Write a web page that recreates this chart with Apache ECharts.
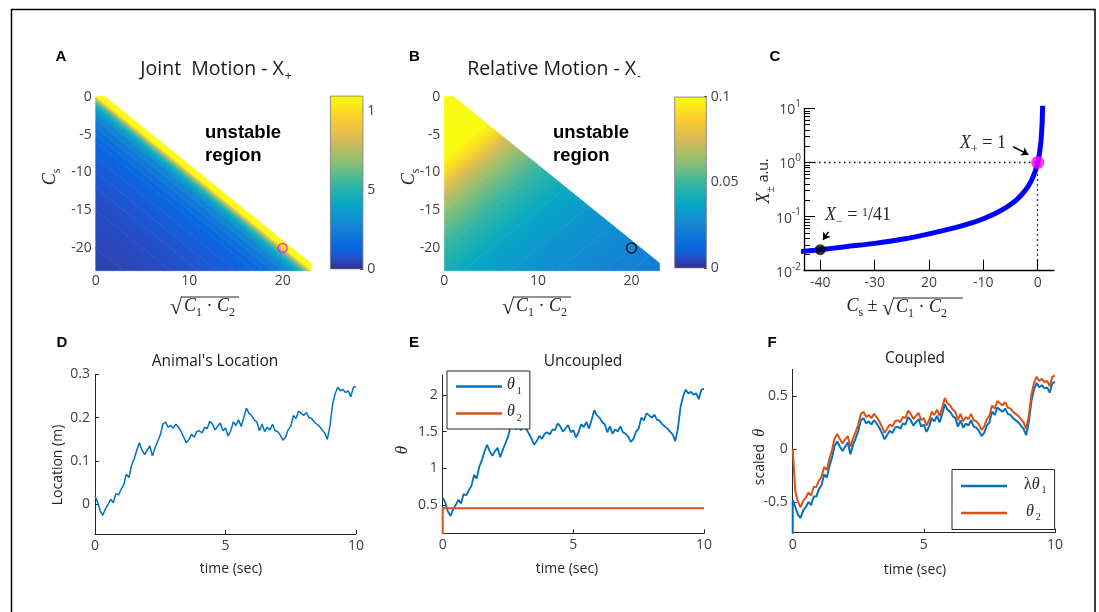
<!DOCTYPE html>
<html>
<head>
<meta charset="utf-8">
<script src="https://cdn.jsdelivr.net/npm/echarts@6.0.0/dist/echarts.min.js"></script>
<style>
html,body{margin:0;padding:0;background:#ffffff;}
#chart{width:1099px;height:612px;}
</style>
</head>
<body>
<div id="chart"></div>
<script>
// ---------------- DATA ----------------
// Profile X(z): z = Cs ± sqrt(C1*C2)
const profileZ = [-46, -43, -40, -35, -30, -25, -20, -15, -12, -10, -8, -6, -5, -4, -3, -2, -1.5, -1, -0.5, -0.25, 0, 0.2, 0.4, 0.5, 0.6, 0.7, 0.8, 0.85, 0.9, 1.0];
const profileX = [0.021, 0.023, 0.0244, 0.028, 0.032, 0.038, 0.048, 0.063, 0.077, 0.091, 0.111, 0.143, 0.167, 0.2, 0.25, 0.333, 0.4, 0.5, 0.667, 0.8, 1, 1.25, 1.67, 2, 2.5, 3.33, 5, 6.67, 10, 30];
// stable region (Cs + sqrt(C1C2) <= 1) in panels A & B
const stableRegion = [[0, 0], [1, 0], [23, -22], [23, -23], [0, -23]];
const markA = [20, -20];
const markB = [20, -20];
const colorbarAMax = 1.1;
const colorbarBMax = 0.1;
const abXTicks = [0, 10, 20];
const abYTicks = [0, -5, -10, -15, -20];
const cbATicks = [0, 0.5, 1];
const cbALabels = ['0', '5', '1'];
const cbBTicks = [0, 0.05, 0.1];
const cbBLabels = ['0', '0.05', '0.1'];
const cXTicks = [-40, -30, -20, -10, 0];
const cXLabels = ['-40', '-30', '20', '-10', '0'];
const cYTicks = [0.01, 0.1, 1, 10];
const cYExp = ['-2', '-1', '0', '1'];
const pointPlus = [0, 1];
const pointMinus = [-40, 0.0244];

const timeSec = [0,0.1,0.2,0.3,0.4,0.5,0.6,0.7,0.8,0.9,1,1.1,1.2,1.3,1.4,1.5,1.6,1.7,1.8,1.9,2,2.1,2.2,2.3,2.4,2.5,2.6,2.7,2.8,2.9,3,3.1,3.2,3.3,3.4,3.5,3.6,3.7,3.8,3.9,4,4.1,4.2,4.3,4.4,4.5,4.6,4.7,4.8,4.9,5,5.1,5.2,5.3,5.4,5.5,5.6,5.7,5.8,5.9,6,6.1,6.2,6.3,6.4,6.5,6.6,6.7,6.8,6.9,7,7.1,7.2,7.3,7.4,7.5,7.6,7.7,7.8,7.9,8,8.1,8.2,8.3,8.4,8.5,8.6,8.7,8.8,8.9,9,9.1,9.2,9.3,9.4,9.5,9.6,9.7,9.8,9.9,10];
const locationD = [0.02,0.005,-0.015,-0.025,-0.01,0.0,0.012,0.004,0.025,0.022,
0.035,0.045,0.07,0.062,0.09,0.105,0.125,0.142,0.125,0.115,
0.125,0.135,0.112,0.13,0.145,0.16,0.185,0.19,0.178,0.182,
0.176,0.185,0.178,0.168,0.155,0.142,0.15,0.162,0.155,0.168,
0.17,0.165,0.178,0.175,0.192,0.185,0.172,0.18,0.188,0.17,
0.176,0.158,0.17,0.19,0.182,0.195,0.18,0.2,0.222,0.21,
0.205,0.195,0.19,0.17,0.185,0.168,0.178,0.172,0.185,0.17,
0.168,0.16,0.148,0.155,0.172,0.18,0.205,0.198,0.215,0.21,
0.205,0.212,0.2,0.198,0.19,0.185,0.18,0.172,0.165,0.15,
0.18,0.23,0.255,0.27,0.262,0.265,0.258,0.262,0.248,0.27,
0.272];
const theta1E = [0.6,0.53,0.41,0.35,0.44,0.5,0.57,0.52,0.65,0.63,
0.7,0.76,0.91,0.86,1.02,1.11,1.23,1.32,1.23,1.17,
1.23,1.28,1.15,1.25,1.34,1.43,1.57,1.6,1.53,1.56,
1.52,1.57,1.53,1.47,1.4,1.32,1.37,1.44,1.4,1.47,
1.49,1.46,1.53,1.52,1.61,1.57,1.5,1.54,1.59,1.49,
1.52,1.42,1.49,1.6,1.56,1.63,1.54,1.66,1.79,1.72,
1.69,1.63,1.6,1.49,1.57,1.47,1.53,1.5,1.57,1.49,
1.47,1.43,1.36,1.4,1.5,1.54,1.69,1.65,1.75,1.72,
1.69,1.73,1.66,1.65,1.6,1.57,1.54,1.5,1.46,1.37,
1.54,1.83,1.98,2.07,2.02,2.04,2.0,2.02,1.94,2.07,
2.08];
const theta2ET = [0, 0, 10];
const theta2EV = [0.1, 0.455, 0.455];
const lamTheta1FStart = [0, -0.85];
const lamTheta1F = [-0.48,-0.55,-0.62,-0.65,-0.58,-0.55,-0.5,-0.53,-0.45,-0.45,
-0.38,-0.34,-0.24,-0.27,-0.16,-0.08,0.03,0.07,0.02,-0.02,
0.02,0.06,-0.05,0.04,0.1,0.17,0.27,0.29,0.24,0.26,
0.23,0.27,0.24,0.2,0.15,0.09,0.13,0.17,0.15,0.2,
0.21,0.19,0.24,0.23,0.3,0.27,0.22,0.25,0.28,0.21,
0.23,0.16,0.21,0.29,0.26,0.31,0.25,0.33,0.42,0.37,
0.35,0.31,0.29,0.21,0.27,0.2,0.24,0.22,0.27,0.21,
0.2,0.17,0.12,0.15,0.22,0.25,0.35,0.32,0.39,0.37,
0.35,0.38,0.33,0.32,0.29,0.27,0.25,0.22,0.19,0.13,
0.25,0.45,0.56,0.62,0.58,0.6,0.57,0.58,0.53,0.62,
0.63];
const theta2F = [0.0,-0.4,-0.5,-0.55,-0.49,-0.46,-0.41,-0.44,-0.36,-0.36,
-0.3,-0.26,-0.17,-0.2,-0.09,-0.01,0.1,0.14,0.09,0.05,
0.09,0.12,0.02,0.1,0.16,0.23,0.33,0.35,0.3,0.32,
0.29,0.33,0.3,0.26,0.21,0.15,0.19,0.23,0.21,0.26,
0.27,0.25,0.3,0.29,0.36,0.33,0.28,0.31,0.34,0.27,
0.29,0.22,0.27,0.35,0.32,0.37,0.31,0.39,0.48,0.43,
0.41,0.37,0.35,0.27,0.33,0.26,0.3,0.28,0.33,0.27,
0.26,0.23,0.18,0.21,0.28,0.31,0.41,0.38,0.45,0.43,
0.41,0.44,0.39,0.38,0.35,0.33,0.31,0.28,0.25,0.19,
0.31,0.51,0.62,0.68,0.64,0.66,0.63,0.64,0.59,0.68,
0.69];
const timeTicks = [0, 5, 10];
const dTicks = [0, 0.1, 0.2, 0.3];
const eTicks = [0.5, 1, 1.5, 2];
const fTicks = [-0.5, 0, 0.5];

// ---------------- STYLE HELPERS ----------------
const FONT = "'Open Sans', 'Noto Sans', sans-serif";
const SERIF = "'Liberation Serif', 'DejaVu Serif', serif";
const BOLD = "'Liberation Sans', Arial, sans-serif";
const TICKC = '#404040';
const AXC = '#262626';
const BLUE = '#0072BD';
const ORANGE = '#D95319';
// parula-like colormap (position, colour)
const PARULA = [[0, '#352a87'], [0.04, '#2d43b4'], [0.08, '#1c58d6'], [0.125, '#0a66e0'], [0.25, '#1485d4'],
  [0.375, '#06a7c6'], [0.5, '#38b99e'], [0.625, '#92bf73'], [0.75, '#d9ba56'], [0.875, '#fcce2e'], [1, '#f9fb0e']];

function hexRgb(h) { return [parseInt(h.slice(1,3),16), parseInt(h.slice(3,5),16), parseInt(h.slice(5,7),16)]; }
const PRGB = PARULA.map(s => [s[0], hexRgb(s[1])]);
function parula(t) {
  t = Math.max(0, Math.min(1, t));
  let i = 0;
  while (i < PRGB.length - 2 && t > PRGB[i + 1][0]) i++;
  const a = PRGB[i], b = PRGB[i + 1];
  const f = (t - a[0]) / (b[0] - a[0]);
  return 'rgb(' + [0,1,2].map(k => Math.round(a[1][k] + (b[1][k] - a[1][k]) * f)).join(',') + ')';
}
const parulaStops = PARULA.map(s => ({offset: s[0], color: s[1]}));

function labelFor(ticks, labels) {
  return function (v) {
    for (let i = 0; i < ticks.length; i++) {
      if (Math.abs(ticks[i] - v) <= 1e-6 * Math.max(1, Math.abs(ticks[i]))) return labels[i];
    }
    return '';
  };
}

// Sutherland-Hodgman clip, keep g(p) >= 0
function clipHalf(poly, g) {
  const out = [];
  for (let i = 0; i < poly.length; i++) {
    const p = poly[i], q = poly[(i + 1) % poly.length];
    const gp = g(p), gq = g(q);
    if (gp >= 0) out.push(p);
    if ((gp >= 0) !== (gq >= 0)) {
      const t = gp / (gp - gq);
      out.push([p[0] + (q[0] - p[0]) * t, p[1] + (q[1] - p[1]) * t]);
    }
  }
  return out;
}

function bandRenderer(fa, fb, vmax) {
  return function (params, api) {
    const zLo = api.value(0), zHi = api.value(1), vLo = api.value(2), vHi = api.value(3);
    let poly = clipHalf(stableRegion, p => fa * p[0] + fb * p[1] - zLo);
    poly = clipHalf(poly, p => zHi - (fa * p[0] + fb * p[1]));
    if (poly.length < 3) return null;
    const pts = poly.map(p => api.coord(p));
    const o = api.coord([0, 0]), u = api.coord([1, -1]);
    const sx = u[0] - o[0], sy = u[1] - o[1];
    const gx = fa / sx, gy = -fb / sy;
    const G2 = gx * gx + gy * gy;
    const fill = {
      type: 'linear', global: true,
      x: o[0] + gx * zLo / G2, y: o[1] + gy * zLo / G2,
      x2: o[0] + gx * zHi / G2, y2: o[1] + gy * zHi / G2,
      colorStops: [{offset: 0, color: parula(vLo / vmax)}, {offset: 1, color: parula(vHi / vmax)}]
    };
    return {type: 'polygon', shape: {points: pts}, style: {fill: fill, stroke: fill, lineWidth: 0.6}};
  };
}

const bandData = profileZ.slice(0, -1).map((z, i) => [profileZ[i], profileZ[i + 1], profileX[i], profileX[i + 1]]);

function T(x, y, text, st, el) {
  const style = Object.assign({text: text, fill: '#1a1a1a', fontFamily: FONT, fontSize: 14,
    align: 'center', verticalAlign: 'middle', textAlign: 'center', textVerticalAlign: 'middle'}, st || {});
  return Object.assign({type: 'text', x: x, y: y, z: 100, silent: true, style: style}, el || {});
}
const MATH = {
  i: {fontFamily: SERIF, fontStyle: 'italic', fontSize: 18, fill: '#262626', verticalAlign: 'top'},
  n: {fontFamily: SERIF, fontSize: 18, fill: '#262626', verticalAlign: 'top'},
  s: {fontFamily: SERIF, fontSize: 12, fill: '#262626', verticalAlign: 'top', padding: [9, 0, 0, 0]},
  a: {fontFamily: FONT, fontSize: 14, fill: '#262626', verticalAlign: 'top', padding: [2, 0, 0, 0]}
};
function sqrtParts(x0, cy, w) {
  return [
    T(x0, cy + 1, '√', {fontFamily: SERIF, fontSize: 22, align: 'left', textAlign: 'left', fill: '#262626'}),
    T(x0 + 14, cy + 1, '{i|C}{s|1}{n| · }{i|C}{s|2}', {align: 'left', textAlign: 'left', rich: MATH}),
    {type: 'line', z: 100, silent: true, shape: {x1: x0 + 11, y1: cy - 10, x2: x0 + 11 + w, y2: cy - 10}, style: {stroke: '#262626', lineWidth: 1}}
  ];
}
const TITLE_RICH = {
  n: {fontFamily: FONT, fontSize: 19.5, fill: '#1a1a1a', verticalAlign: 'top'},
  s: {fontFamily: FONT, fontSize: 12, fill: '#1a1a1a', verticalAlign: 'top', padding: [12, 0, 0, 1]}
};

// ---------------- AXES ----------------
function plainValueAxis(gi, min, max, ticks, extra) {
  return Object.assign({
    type: 'value', gridIndex: gi, min: min, max: max,
    axisLine: {show: false}, axisTick: {show: false}, splitLine: {show: false},
    axisLabel: {customValues: ticks, color: TICKC, fontSize: 14, fontFamily: FONT, margin: 4}
  }, extra || {});
}
function lineAxis(gi, min, max, ticks, extra) {
  return Object.assign({
    type: 'value', gridIndex: gi, min: min, max: max,
    axisLine: {show: true, onZero: false, lineStyle: {color: AXC, width: 1}},
    axisTick: {show: true, inside: true, length: 4, customValues: ticks, lineStyle: {color: AXC}},
    splitLine: {show: false},
    axisLabel: {customValues: ticks, color: TICKC, fontSize: 14, fontFamily: FONT, margin: 5}
  }, extra || {});
}
const cMinor = [];
[0.01, 0.1, 1].forEach(b => { for (let k = 2; k <= 9; k++) cMinor.push(+(b * k).toPrecision(3)); });
const cbBMinor = Array.from({length: 21}, (_, i) => +(i * 0.005).toFixed(3));

const xAxes = [
  plainValueAxis(0, 0, 23, abXTicks, {axisLabel: {customValues: abXTicks, color: TICKC, fontSize: 14, fontFamily: FONT, margin: 3}}),
  {type: 'category', gridIndex: 1, data: ['cb'], show: false},
  plainValueAxis(2, 0, 23, abXTicks, {axisLabel: {customValues: abXTicks, color: TICKC, fontSize: 14, fontFamily: FONT, margin: 3}}),
  {type: 'category', gridIndex: 3, data: ['cb'], show: false},
  lineAxis(4, -43, 3, cXTicks, {
    axisLine: {show: true, onZero: false, lineStyle: {color: '#000', width: 1.3}},
    axisTick: {show: true, inside: true, length: 11, customValues: cXTicks, lineStyle: {color: '#000', width: 1}},
    axisLabel: {customValues: cXTicks, formatter: labelFor(cXTicks, cXLabels), color: TICKC, fontSize: 14, fontFamily: FONT, margin: 5}
  }),
  lineAxis(5, 0, 10, timeTicks),
  lineAxis(6, 0, 10, timeTicks),
  lineAxis(7, 0, 10, timeTicks)
];
const yAxes = [
  plainValueAxis(0, -23, 0, abYTicks),
  {type: 'value', gridIndex: 1, min: 0, max: colorbarAMax, position: 'right', splitLine: {show: false},
    axisLine: {show: false, onZero: false},
    axisTick: {show: true, inside: true, length: 3, customValues: cbATicks, lineStyle: {color: '#333'}},
    axisLabel: {customValues: cbATicks, formatter: labelFor(cbATicks, cbALabels), color: TICKC, fontSize: 14, fontFamily: FONT, margin: 4}},
  plainValueAxis(2, -23, 0, abYTicks),
  {type: 'value', gridIndex: 3, min: 0, max: colorbarBMax, position: 'right', splitLine: {show: false},
    axisLine: {show: false, onZero: false},
    axisTick: {show: true, inside: true, length: 2.5, customValues: cbBMinor, lineStyle: {color: '#333'}},
    axisLabel: {customValues: cbBTicks, formatter: labelFor(cbBTicks, cbBLabels), color: TICKC, fontSize: 14, fontFamily: FONT, margin: 4}},
  {type: 'log', logBase: 10, gridIndex: 4, min: 0.01, max: 10, position: 'left', splitLine: {show: false},
    axisLine: {show: true, onZero: false, lineStyle: {color: '#000', width: 1.3}},
    axisTick: {show: true, inside: true, length: 11, customValues: cYTicks, lineStyle: {color: '#000'}},
    axisLabel: {customValues: cYTicks, margin: 3,
      formatter: v => '{b|10}{p|' + labelFor(cYTicks, cYExp)(v) + '}',
      rich: {b: {color: TICKC, fontSize: 14, fontFamily: FONT, verticalAlign: 'bottom'},
             p: {color: TICKC, fontSize: 10, fontFamily: FONT, verticalAlign: 'bottom', padding: [0, 0, 8, 0]}}}},
  lineAxis(5, -0.068, 0.3, dTicks),
  lineAxis(6, 0.114, 2.27, eTicks),
  lineAxis(7, -0.79, 0.75, fTicks),
  {type: 'log', logBase: 10, gridIndex: 4, min: 0.01, max: 10, position: 'left', offset: 0, splitLine: {show: false},
    axisLine: {show: false, onZero: false},
    axisTick: {show: true, inside: true, length: 6, customValues: cMinor, lineStyle: {color: '#000'}},
    axisLabel: {show: false}}
];

const pairs = (xs, ys) => xs.map((x, i) => [x, ys[i]]);

const series = [
  {type: 'custom', name: 'A', xAxisIndex: 0, yAxisIndex: 0, renderItem: bandRenderer(1, 1, colorbarAMax), data: bandData, silent: true},
  {type: 'scatter', xAxisIndex: 0, yAxisIndex: 0, data: [markA], symbol: 'circle', symbolSize: 9, silent: true,
    itemStyle: {color: 'rgba(0,0,0,0)', borderColor: '#ff00ff', borderWidth: 1.5}, z: 5},
  {type: 'bar', xAxisIndex: 1, yAxisIndex: 1, data: [colorbarAMax], barWidth: '100%', silent: true,
    itemStyle: {color: new echarts.graphic.LinearGradient(0, 1, 0, 0, parulaStops), borderColor: '#777', borderWidth: 0.8}},
  {type: 'custom', name: 'B', xAxisIndex: 2, yAxisIndex: 2, renderItem: bandRenderer(-1, 1, colorbarBMax), data: bandData, silent: true},
  {type: 'scatter', xAxisIndex: 2, yAxisIndex: 2, data: [markB], symbol: 'circle', symbolSize: 10, silent: true,
    itemStyle: {color: 'rgba(0,0,0,0)', borderColor: '#000', borderWidth: 1.5}, z: 5},
  {type: 'bar', xAxisIndex: 3, yAxisIndex: 3, data: [colorbarBMax], barWidth: '100%', silent: true,
    itemStyle: {color: new echarts.graphic.LinearGradient(0, 1, 0, 0, parulaStops), borderColor: '#777', borderWidth: 0.8}},
  {type: 'line', xAxisIndex: 4, yAxisIndex: 4, data: pairs(profileZ, profileX), showSymbol: false, symbol: 'none', smooth: 0.2,
    lineStyle: {color: '#0000ff', width: 5}, color: '#0000ff', silent: true, clip: true,
    markLine: {silent: true, symbol: 'none', label: {show: false},
      lineStyle: {color: '#000', width: 1.3, type: [1.5, 3.5]},
      data: [[{coord: [-43, pointPlus[1]]}, {coord: [pointPlus[0], pointPlus[1]]}],
             [{coord: [pointPlus[0], 0.01]}, {coord: [pointPlus[0], pointPlus[1]]}]]}},
  {type: 'scatter', xAxisIndex: 4, yAxisIndex: 4, silent: true, z: 6,
    data: [{value: pointPlus, itemStyle: {color: '#ff00ff'}, symbolSize: 13}, {value: pointMinus, itemStyle: {color: '#000'}, symbolSize: 11}],
    markLine: {silent: true, symbol: ['none', 'arrow'], symbolSize: 7, label: {show: false},
      lineStyle: {color: '#000', width: 1.5, type: 'solid'},
      data: [[{coord: [-4.5, 1.95]}, {coord: [-1.7, 1.39]}], [{coord: [-38.5, 0.052]}, {coord: [-39.5, 0.037]}]]}},
  {type: 'line', xAxisIndex: 5, yAxisIndex: 5, data: pairs(timeSec, locationD), showSymbol: false, symbol: 'none',
    lineStyle: {color: BLUE, width: 1.5}, color: BLUE, silent: true},
  {type: 'line', name: 'E1', xAxisIndex: 6, yAxisIndex: 6, data: pairs(timeSec, theta1E), showSymbol: false, symbol: 'none',
    lineStyle: {color: BLUE, width: 1.8}, color: BLUE, silent: true},
  {type: 'line', name: 'E2', xAxisIndex: 6, yAxisIndex: 6, data: pairs(theta2ET, theta2EV), showSymbol: false, symbol: 'none',
    lineStyle: {color: ORANGE, width: 2}, color: ORANGE, silent: true},
  {type: 'line', name: 'F1', xAxisIndex: 7, yAxisIndex: 7, data: [lamTheta1FStart].concat(pairs(timeSec, lamTheta1F)), showSymbol: false, symbol: 'none',
    lineStyle: {color: BLUE, width: 2}, color: BLUE, silent: true},
  {type: 'line', name: 'F2', xAxisIndex: 7, yAxisIndex: 7, data: pairs(timeSec, theta2F), showSymbol: false, symbol: 'none',
    lineStyle: {color: ORANGE, width: 2}, color: ORANGE, silent: true}
];

const LEG_RICH = {
  l: {fontFamily: SERIF, fontSize: 16, color: '#262626', verticalAlign: 'top'},
  t: {fontFamily: SERIF, fontStyle: 'italic', fontSize: 16, color: '#262626', verticalAlign: 'top'},
  s: {fontFamily: SERIF, fontSize: 10, color: '#262626', verticalAlign: 'top', padding: [9, 0, 0, 2]},
  pl: {fontFamily: SERIF, fontSize: 16, color: '#262626', verticalAlign: 'top', padding: [0, 0, 0, 12]},
  pt: {fontFamily: SERIF, fontStyle: 'italic', fontSize: 16, color: '#262626', verticalAlign: 'top', padding: [0, 0, 0, 14]}
};
const LEG_TEXT = {E1: '{t|θ}{s|1}', E2: '{t|θ}{s|2}', F1: '{pl|λ}{t|θ}{s|1}', F2: '{pt|θ}{s|2}'};
function legend(names, left, top, pad) {
  return {data: names, orient: 'vertical', left: left, top: top, padding: pad, itemGap: 8,
    itemWidth: 46, itemHeight: 2.5, icon: 'rect', selectedMode: false, backgroundColor: '#fff',
    borderColor: '#262626', borderWidth: 1, borderRadius: 0, z: 20,
    formatter: n => LEG_TEXT[n], textStyle: {rich: LEG_RICH}};
}

const graphics = [
  {type: 'rect', z: 100, silent: true, shape: {x: 11.5, y: 9.5, width: 1083.5, height: 640}, style: {fill: 'none', stroke: '#000', lineWidth: 1.5}},
  T(61, 57, 'A', {fontFamily: BOLD, fontWeight: 'bold', fontSize: 15, fill: '#000'}),
  T(414.5, 57, 'B', {fontFamily: BOLD, fontWeight: 'bold', fontSize: 15, fill: '#000'}),
  T(775, 57, 'C', {fontFamily: BOLD, fontWeight: 'bold', fontSize: 15, fill: '#000'}),
  T(62, 343, 'D', {fontFamily: BOLD, fontWeight: 'bold', fontSize: 15, fill: '#000'}),
  T(414, 343, 'E', {fontFamily: BOLD, fontWeight: 'bold', fontSize: 15, fill: '#000'}),
  T(772, 343, 'F', {fontFamily: BOLD, fontWeight: 'bold', fontSize: 15, fill: '#000'}),
  T(216, 71, '{n|Joint  Motion - X}{s|+}', {rich: TITLE_RICH}),
  T(554, 71, '{n|Relative Motion - X}{s|-}', {rich: TITLE_RICH}),
  T(215, 362, "Animal's Location", {fontSize: 15.5, fill: '#1a1a1a'}),
  T(583, 362, 'Uncoupled', {fontSize: 15.5, fill: '#1a1a1a'}),
  T(915, 359, 'Coupled', {fontSize: 15.5, fill: '#1a1a1a'}),
  T(205, 133, 'unstable', {fontFamily: BOLD, fontWeight: 'bold', fontSize: 18.5, fill: '#000', align: 'left', textAlign: 'left'}),
  T(205, 156, 'region', {fontFamily: BOLD, fontWeight: 'bold', fontSize: 18.5, fill: '#000', align: 'left', textAlign: 'left'}),
  T(553, 133, 'unstable', {fontFamily: BOLD, fontWeight: 'bold', fontSize: 18.5, fill: '#000', align: 'left', textAlign: 'left'}),
  T(553, 156, 'region', {fontFamily: BOLD, fontWeight: 'bold', fontSize: 18.5, fill: '#000', align: 'left', textAlign: 'left'}),
  T(52, 177, '{i|C}{s|s}', {rich: MATH}, {rotation: Math.PI / 2}),
  T(411, 177, '{i|C}{s|s}', {rich: MATH}, {rotation: Math.PI / 2}),
  T(766, 181, '{i|X}{s|±}{a| a.u.}', {rich: MATH}, {rotation: Math.PI / 2}),
  T(882, 308, '{i|C}{s|s}{n| ± }', {rich: MATH, align: 'right', textAlign: 'right'}),
  T(58, 465, 'Location (m)', {fill: '#262626'}, {rotation: Math.PI / 2}),
  T(403, 450, 'θ', {fontFamily: SERIF, fontStyle: 'italic', fontSize: 17, fill: '#262626'}, {rotation: Math.PI / 2}),
  T(760, 457, '{a|scaled  }{i|θ}', {rich: {a: {fontFamily: FONT, fontSize: 14, fill: '#262626', verticalAlign: 'middle'}, i: {fontFamily: SERIF, fontStyle: 'italic', fontSize: 16, fill: '#262626', verticalAlign: 'middle'}}}, {rotation: Math.PI / 2}),
  T(231, 569, 'time (sec)', {fill: '#262626'}),
  T(567, 569, 'time (sec)', {fill: '#262626'}),
  T(915, 570, 'time (sec)', {fill: '#262626'}),
  T(983, 145, '{i|X}{s|+}{n| = 1}', {rich: MATH}),
  T(825, 217, '{i|X}{s|−}{n| = }{u|1}{n|/41}', {align: 'left', textAlign: 'left', rich: Object.assign({u: {fontFamily: SERIF, fontSize: 12, fill: '#262626', verticalAlign: 'top', padding: [0, 0, 0, 0]}}, MATH)})
].concat(sqrtParts(170, 307, 58), sqrtParts(502, 307, 58), sqrtParts(882, 308, 70));

const option = {
  backgroundColor: '#ffffff',
  animation: false,
  grid: [
    {left: 95.7, top: 96.7, width: 215, height: 174, outerBoundsMode: 'none'},
    {left: 330, top: 95.7, width: 33.3, height: 173.6, outerBoundsMode: 'none'},
    {left: 444.3, top: 96.7, width: 215.3, height: 174, outerBoundsMode: 'none'},
    {left: 674.3, top: 96.7, width: 32.4, height: 171.6, outerBoundsMode: 'none'},
    {left: 804, top: 108.3, width: 250, height: 162.4, outerBoundsMode: 'none'},
    {left: 95, top: 374.3, width: 261, height: 159.7, outerBoundsMode: 'none'},
    {left: 442.7, top: 375, width: 261.3, height: 158.3, outerBoundsMode: 'none'},
    {left: 792.7, top: 369.3, width: 262.3, height: 163.4, outerBoundsMode: 'none'}
  ],
  xAxis: xAxes,
  yAxis: yAxes,
  legend: [legend(['E1', 'E2'], 447, 371, [6, 8, 6, 9]), legend(['F1', 'F2'], 952, 469.5, [7, 8, 7, 9])],
  series: series,
  graphic: graphics
};

const chart = echarts.init(document.getElementById('chart'), null, {renderer: 'canvas', width: 1099, height: 612});
chart.setOption(option);
</script>
</body>
</html>
